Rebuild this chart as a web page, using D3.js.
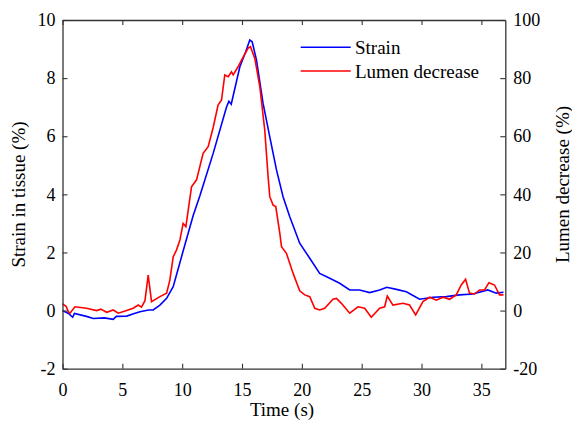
<!DOCTYPE html>
<html>
<head>
<meta charset="utf-8">
<script src="https://cdn.jsdelivr.net/npm/d3@7"></script>
<style>
  body { margin: 0; background: #fff; }
  svg text { font-family: "Liberation Serif", "Times New Roman", serif; fill: #000; }
</style>
</head>
<body>
<svg id="chart" width="572" height="421"></svg>
<script>
// Strain in tissue (%) - left axis
const strainTime = [0, 0.5, 0.85, 1.0, 2.0, 2.57, 3.5, 4.24, 4.5, 5.36, 6.0, 6.47, 7.2, 7.58, 8.14, 8.7, 9.25,
  10.08, 10.92, 11.48, 12.59, 13.7, 13.9, 14.1, 14.82, 15.3, 15.65, 15.85, 16.21, 16.76, 17.32, 17.88, 18.43,
  18.99, 19.82, 20.66, 21.49, 22.33, 23.16, 24.0, 24.83, 25.67, 26.5, 27.1, 27.9, 28.73, 29.84, 30.95,
  32.07, 33.18, 34.29, 35.54, 36.24, 36.85];
const strainValues = [0, -0.1, -0.23, -0.1, -0.2, -0.27, -0.25, -0.3, -0.2, -0.19, -0.1, -0.04, 0.02, 0.02, 0.19, 0.42, 0.82,
  2.05, 3.27, 3.95, 5.41, 7.0, 7.2, 7.1, 8.39, 8.9, 9.31, 9.25, 8.62, 7.13, 5.98, 4.84, 3.92,
  3.23, 2.32, 1.8, 1.28, 1.11, 0.94, 0.71, 0.71, 0.62, 0.71, 0.8, 0.73, 0.65, 0.39, 0.46,
  0.48, 0.54, 0.57, 0.71, 0.6, 0.63];

// Lumen decrease (%) - right axis
const lumenTime = [0, 0.3, 0.49, 0.63, 1.04, 2.0, 2.85, 3.2, 3.69, 4.24, 4.66, 5.36, 5.91, 6.33, 6.6, 6.89, 7.16, 7.44,
  8.14, 8.7, 8.97, 9.25, 9.53, 9.81, 10.08, 10.31, 10.78, 11.2, 11.75, 12.17, 12.59, 13.0, 13.29, 13.56, 13.85,
  14.12, 14.26, 14.67, 14.96, 15.51, 15.71, 16.07, 16.49, 16.9, 17.18, 17.32, 17.6, 17.82, 18.16, 18.3, 18.71,
  19.27, 19.82, 20.24, 20.66, 21.08, 21.49, 21.91, 22.6, 22.89, 23.3, 24.0, 24.69, 25.25, 25.8, 26.5, 26.92,
  27.14, 27.61, 28.45, 29.0, 29.51, 30.12, 30.68, 31.24, 31.79, 32.35, 32.9, 33.32, 33.68, 34.01, 34.43,
  34.85, 35.27, 35.63, 36.1, 36.52, 36.85];
const lumenValues = [2.3, 1.5, -0.4, -0.9, 1.3, 0.8, 0, 0.5, -0.6, 0.2, -0.9, 0, 0.8, 1.9, 1.2, 3.4, 12.2, 3.1,
  4.8, 6.0, 10.5, 18.5, 20.9, 24.3, 30.0, 28.9, 42.6, 45.0, 54.1, 56.4, 63.0, 70.7, 72.5, 81.1, 80.5,
  82.2, 81.1, 83.9, 86.2, 90.3, 90.8, 86.8, 77.0, 62.1, 46.1, 39.2, 36.3, 35.8, 26.6, 22.0, 19.7,
  12.8, 6.8, 5.4, 4.8, 0.8, 0.2, 0.8, 3.9, 4.2, 2.5, -0.9, 1.3, 0.8, -2.3, 0.8, 1.3,
  5.0, 1.9, 2.5, 1.9, -1.5, 3.1, 4.6, 3.6, 4.6, 3.9, 5.4, 8.8, 10.8, 6.0, 5.7,
  7.1, 7.1, 9.6, 8.8, 5.4, 5.4];

const xTicks = [0, 5, 10, 15, 20, 25, 30, 35];
const leftTicks = [-2, 0, 2, 4, 6, 8, 10];
const rightTicks = [-20, 0, 20, 40, 60, 80, 100];
const seriesNames = ["Strain", "Lumen decrease"];
const seriesColors = ["#0000ff", "#ff0000"];

const svg = d3.select("#chart");
const plotLeft = 62.5, plotRight = 505.3, plotTop = 20, plotBottom = 368.7;

const x = d3.scaleLinear().domain([0, 37]).range([plotLeft, plotRight]);
const yL = d3.scaleLinear().domain([-2, 10]).range([plotBottom, plotTop]);
const yR = d3.scaleLinear().domain([-20, 100]).range([plotBottom, plotTop]);

// plain hyphen for negatives, like the original figure
const fmt = d => String(d);

// lines
const strainData = strainTime.map((t, i) => [t, strainValues[i]]);
const lumenData = lumenTime.map((t, i) => [t, lumenValues[i]]);

svg.append("path")
  .datum(strainData)
  .attr("fill", "none")
  .attr("stroke", seriesColors[0])
  .attr("stroke-width", 1.6)
  .attr("d", d3.line().x(d => x(d[0])).y(d => yL(d[1])));

svg.append("path")
  .datum(lumenData)
  .attr("fill", "none")
  .attr("stroke", seriesColors[1])
  .attr("stroke-width", 1.6)
  .attr("d", d3.line().x(d => x(d[0])).y(d => yR(d[1])));

// axes (box with inward ticks)
function styleAxis(g) {
  g.selectAll(".domain").attr("stroke", "#333").attr("stroke-width", 1.3);
  g.selectAll(".tick line").attr("stroke", "#333").attr("stroke-width", 1.1);
  g.selectAll(".tick text").style("font-size", "18px").style("font-family", "'Liberation Serif', serif");
}

svg.append("g")
  .attr("transform", `translate(0,${plotBottom})`)
  .call(d3.axisBottom(x).tickValues(xTicks).tickFormat(fmt).tickSizeInner(-5).tickSizeOuter(0).tickPadding(15))
  .call(styleAxis);

svg.append("g")
  .attr("transform", `translate(0,${plotTop})`)
  .call(d3.axisTop(x).tickValues(xTicks).tickSizeInner(-5).tickSizeOuter(0).tickFormat(""))
  .call(styleAxis);

svg.append("g")
  .attr("transform", `translate(${plotLeft},0)`)
  .call(d3.axisLeft(yL).tickValues(leftTicks).tickFormat(fmt).tickSizeInner(-5).tickSizeOuter(0).tickPadding(7))
  .call(styleAxis);

svg.append("g")
  .attr("transform", `translate(${plotRight},0)`)
  .call(d3.axisRight(yR).tickValues(rightTicks).tickFormat(fmt).tickSizeInner(-5).tickSizeOuter(0).tickPadding(8))
  .call(styleAxis);

// axis titles
svg.append("text")
  .attr("transform", "translate(25,194.5) rotate(-90)")
  .attr("text-anchor", "middle")
  .style("font-size", "19px")
  .text("Strain in tissue (%)");

svg.append("text")
  .attr("transform", "translate(569,184.5) rotate(-90)")
  .attr("text-anchor", "middle")
  .style("font-size", "19px")
  .text("Lumen decrease (%)");

svg.append("text")
  .attr("x", 282)
  .attr("y", 416)
  .attr("text-anchor", "middle")
  .style("font-size", "19px")
  .text("Time (s)");

// legend
const legend = svg.append("g");
const legendY = [47.3, 71];
seriesNames.forEach((name, i) => {
  legend.append("line")
    .attr("x1", 300.7).attr("x2", 350.7)
    .attr("y1", legendY[i]).attr("y2", legendY[i])
    .attr("stroke", seriesColors[i])
    .attr("stroke-width", 1.6);
  legend.append("text")
    .attr("x", 355)
    .attr("y", legendY[i] + 7)
    .style("font-size", "19px")
    .text(name);
});
</script>
</body>
</html>
